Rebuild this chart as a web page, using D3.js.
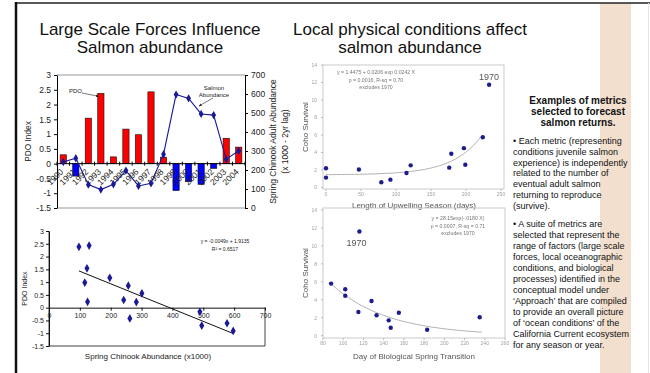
<!DOCTYPE html>
<html>
<head>
<meta charset="utf-8">
<script src="https://cdn.jsdelivr.net/npm/d3@7"></script>
<style>
  body { margin: 0; background: #fff; }
  svg { display: block; font-family: "Liberation Sans", Arial, sans-serif; }
</style>
</head>
<body>
<svg id="slide" width="650" height="373"></svg>
<script>
// ---- data ----
const years = [1990, 1991, 1992, 1993, 1994, 1995, 1996, 1997, 1998, 1999, 2000, 2001, 2002, 2003, 2004];
const pdoIndex = [0.3, -0.42, 1.54, 2.38, 0.23, 1.17, 0.98, 2.43, 0.22, -0.91, -0.61, -0.7, -0.16, 0.86, 0.56];
const chinookAbund = [242, 262, 123, 97, 125, 197, 116, 130, 283, 597, 577, 495, 489, 257, 301];
const pdoTicks = [-1.5, -1, -0.5, 0, 0.5, 1, 1.5, 2, 2.5, 3];
const abundTicks = [0, 100, 200, 300, 400, 500, 600, 700];
const pdoFit = [-0.0049, 1.9135]; // slope, intercept
const pdoFitText = ['y = -0.0049x + 1.9135', 'R\u00b2 = 0.6517'];

const upwellDays = [0, 0, 47, 79, 92, 115, 121, 176, 179, 197, 199, 224, 233];
const upwellSurv = [2.2, 1.13, 2.05, 0.6, 0.9, 1.66, 2.53, 2.27, 3.86, 4.5, 2.6, 5.75, 11.74];
const upwellFit = [1.4475, 0.0206, 0.0242]; // a + b*exp(c x)
const upwellFitText = ['y = 1.4475 + 0.0206 exp 0.0242 X', 'p = 0.0016, R-sq = 0.70', 'excludes 1970'];

const springDay = [88, 102, 102, 116, 115, 128, 133, 145, 147, 155, 183, 235];
const springSurv = [5.8, 5.17, 4.45, 11.6, 2.64, 3.87, 2.27, 1.71, 0.89, 2.56, 0.67, 2.05];
const springFit = [0, 28.15, -0.0180];
const springFitText = ['y = 28.15exp(-.0180 X)', 'p = 0.0007, R-sq = 0.71', 'excludes 1970'];
const survTicks = [0, 2, 4, 6, 8, 10, 12, 14];

const leftTitle = ['Large Scale Forces Influence', 'Salmon abundance'];
const midTitle = ['Local physical conditions affect', 'salmon abundance'];
const notesHead = ['Examples of metrics', 'selected to forecast', 'salmon returns.'];
const notesPara1 = ['\u2022 Each metric (representing', 'conditions juvenile salmon', 'experience) is independently',
  'related to the number of', 'eventual adult salmon', 'returning to reproduce', '(survive).'];
const notesPara2 = ['\u2022 A suite of metrics are', 'selected that represent the', 'range of factors (large scale',
  'forces, local oceanographic', 'conditions, and biological', 'processes) identified in the',
  'conceptual model under', '\u2018Approach\u2019 that are compiled', 'to provide an overall picture',
  'of \u2018ocean conditions\u2019 of the', 'California Current ecosystem', 'for any season or year.'];

const svg = d3.select('#slide');
const fmt = (d) => String(d);

// slide frame + right band
svg.append('rect').attr('x', 600).attr('y', 3).attr('width', 31).attr('height', 370).attr('fill', '#f3dfce');
svg.append('line').attr('x1', 15).attr('x2', 650).attr('y1', 3).attr('y2', 3).attr('stroke', '#222').attr('stroke-width', 1.5);
svg.append('line').attr('x1', 16).attr('x2', 16).attr('y1', 2).attr('y2', 373).attr('stroke', '#111').attr('stroke-width', 2.5);
svg.append('line').attr('x1', 648.5).attr('x2', 648.5).attr('y1', 3).attr('y2', 373).attr('stroke', '#e4e4e4');

// titles
svg.selectAll('.ltitle').data(leftTitle).enter().append('text')
    .attr('x', 150).attr('y', (d, i) => 35 + i * 18)
    .attr('text-anchor', 'middle').attr('font-size', 17).attr('fill', '#111').text((d) => d);
svg.selectAll('.mtitle').data(midTitle).enter().append('text')
    .attr('x', 410).attr('y', (d, i) => 35 + i * 18)
    .attr('text-anchor', 'middle').attr('font-size', 17).attr('fill', '#111').text((d) => d);

// arrow marker
svg.append('defs').append('marker').attr('id', 'arr').attr('viewBox', '0 0 10 10')
    .attr('refX', 9).attr('refY', 5).attr('markerWidth', 5).attr('markerHeight', 5).attr('orient', 'auto')
    .append('path').attr('d', 'M0,1 L10,5 L0,9 z').attr('fill', '#222');

// ***** top-left: PDO bars + chinook line *****
const tl = {left: 57, right: 245, top: 75, bottom: 208};
const xB = d3.scaleBand().domain(years).range([tl.left, tl.right]).paddingInner(0.5).paddingOuter(0.25);
const yL = d3.scaleLinear().domain([-1.5, 3]).range([tl.bottom, tl.top]);
const yR = d3.scaleLinear().domain([0, 700]).range([tl.bottom, tl.top]);
const bw = xB.bandwidth();
const combo = svg.append('g');

combo.append('line').attr('x1', tl.left).attr('x2', tl.right).attr('y1', tl.top).attr('y2', tl.top).attr('stroke', '#999');
combo.append('line').attr('x1', tl.left).attr('x2', tl.right).attr('y1', tl.bottom).attr('y2', tl.bottom).attr('stroke', '#999');

combo.selectAll('.bar').data(years).enter().append('rect')
    .attr('x', (d) => xB(d)).attr('width', bw)
    .attr('y', (d, i) => yL(Math.max(0, pdoIndex[i])))
    .attr('height', (d, i) => Math.abs(yL(pdoIndex[i]) - yL(0)))
    .attr('fill', (d, i) => pdoIndex[i] >= 0 ? '#ff0000' : '#0000ff')
    .attr('stroke', '#111').attr('stroke-width', 0.6);

const axL = combo.append('g').attr('transform', `translate(${tl.left},0)`)
    .call(d3.axisLeft(yL).tickValues(pdoTicks).tickFormat(fmt).tickSizeInner(3).tickSizeOuter(0).tickPadding(3));
const axR = combo.append('g').attr('transform', `translate(${tl.right},0)`)
    .call(d3.axisRight(yR).tickValues(abundTicks).tickFormat(fmt).tickSizeInner(3).tickSizeOuter(0).tickPadding(3));
[axL, axR].forEach((a) => {
  a.selectAll('text').attr('font-size', 8.5).attr('fill', '#222').attr('font-family', null);
  a.selectAll('line,path').attr('stroke', '#000');
});

// x axis at zero
const y0 = yL(0);
combo.append('line').attr('x1', tl.left).attr('x2', tl.right).attr('y1', y0).attr('y2', y0).attr('stroke', '#000');
combo.selectAll('.xt').data(d3.range(years.length + 1)).enter().append('line')
    .attr('x1', (i) => tl.left + i * xB.step()).attr('x2', (i) => tl.left + i * xB.step())
    .attr('y1', y0 - 2).attr('y2', y0 + 2).attr('stroke', '#000');

// line series
const lineGen = d3.line().x((d, i) => xB(years[i]) + bw / 2).y((d) => yR(d));
combo.append('path').datum(chinookAbund).attr('d', lineGen)
    .attr('fill', 'none').attr('stroke', '#1a1a96').attr('stroke-width', 1.1);

combo.selectAll('.yl').data(years).enter().append('text')
    .attr('transform', (d) => `translate(${xB(d) + bw / 2 - 3},${y0 + 5}) rotate(-45)`)
    .attr('text-anchor', 'end').attr('dy', '0.6em').attr('font-size', 8.5).attr('fill', '#222').text((d) => d);

combo.selectAll('.mk').data(chinookAbund).enter().append('path')
    .attr('d', d3.symbol().type(d3.symbolDiamond).size(20))
    .attr('transform', (d, i) => `translate(${xB(years[i]) + bw / 2},${yR(d)})`)
    .attr('fill', '#1a1a96');

combo.append('text').attr('transform', `translate(31,${(tl.top + tl.bottom) / 2}) rotate(-90)`)
    .attr('text-anchor', 'middle').attr('font-size', 8.3).attr('fill', '#222').text('PDO Index');
combo.append('text').attr('transform', `translate(276,${(tl.top + tl.bottom) / 2}) rotate(-90)`)
    .attr('text-anchor', 'middle').attr('font-size', 8.5).attr('fill', '#222').text('Spring Chinook Adult Abundance');
combo.append('text').attr('transform', `translate(288,${(tl.top + tl.bottom) / 2}) rotate(-90)`)
    .attr('text-anchor', 'middle').attr('font-size', 8.5).attr('fill', '#222').text('(x 1000 - 2yr lag)');

// annotations
combo.append('text').attr('x', 69).attr('y', 93).attr('font-size', 6).attr('fill', '#222').text('PDO');
combo.append('line').attr('x1', 82).attr('y1', 93).attr('x2', xB(1993) + 1).attr('y2', yL(pdoIndex[3]) + 3)
    .attr('stroke', '#222').attr('stroke-width', 0.6).attr('marker-end', 'url(#arr)');
combo.append('text').attr('x', 214).attr('y', 90).attr('text-anchor', 'middle').attr('font-size', 6).attr('fill', '#222').text('Salmon');
combo.append('text').attr('x', 214).attr('y', 97).attr('text-anchor', 'middle').attr('font-size', 6).attr('fill', '#222').text('Abundance');
combo.append('line').attr('x1', 213).attr('y1', 98).attr('x2', 199).attr('y2', 106)
    .attr('stroke', '#222').attr('stroke-width', 0.6).attr('marker-end', 'url(#arr)');

// ***** bottom-left: scatter PDO vs abundance *****
const sc = {left: 49, right: 265, top: 231, bottom: 346};
const sx = d3.scaleLinear().domain([0, 700]).range([sc.left, sc.right]);
const sy = d3.scaleLinear().domain([-1.5, 3]).range([sc.bottom, sc.top]);
const scat = svg.append('g');
scat.append('path').attr('d', `M${sc.left},${sc.top}V${sc.bottom}H${sc.right}V${sy(0)}`)
    .attr('fill', 'none').attr('stroke', '#111').attr('stroke-width', 0.8);
const sAxY = scat.append('g').attr('transform', `translate(${sc.left},0)`)
    .call(d3.axisLeft(sy).tickValues(pdoTicks).tickFormat(fmt).tickSizeInner(3).tickSizeOuter(0).tickPadding(2));
const sAxX = scat.append('g').attr('transform', `translate(0,${sy(0)})`)
    .call(d3.axisBottom(sx).tickValues(abundTicks).tickFormat(fmt).tickSizeInner(3).tickSizeOuter(0).tickPadding(2));
[sAxY, sAxX].forEach((a) => {
  a.selectAll('text').attr('font-size', 7).attr('fill', '#222').attr('font-family', null);
  a.selectAll('line,path').attr('stroke', '#111');
});
const absExt = d3.extent(chinookAbund);
scat.append('line')
    .attr('x1', sx(absExt[0])).attr('y1', sy(pdoFit[0] * absExt[0] + pdoFit[1]))
    .attr('x2', sx(absExt[1])).attr('y2', sy(pdoFit[0] * absExt[1] + pdoFit[1]))
    .attr('stroke', '#111').attr('stroke-width', 1);
scat.selectAll('.pt').data(chinookAbund).enter().append('path')
    .attr('d', d3.symbol().type(d3.symbolDiamond).size(22))
    .attr('transform', (d, i) => `translate(${sx(d)},${sy(pdoIndex[i])})`)
    .attr('fill', '#1a1a96');
scat.selectAll('.eq').data(pdoFitText).enter().append('text')
    .attr('x', 225).attr('y', (d, i) => 243 + i * 7.5).attr('text-anchor', 'middle')
    .attr('font-size', 5).attr('fill', '#222').text((d) => d);
scat.append('text').attr('transform', `translate(27,${(sc.top + sc.bottom) / 2}) rotate(-90)`)
    .attr('text-anchor', 'middle').attr('font-size', 7).attr('fill', '#222').text('PDO Index');
scat.append('text').attr('x', 148).attr('y', 359).attr('text-anchor', 'middle')
    .attr('font-size', 8).attr('fill', '#222').text('Spring Chinook Abundance (x1000)');

// ***** middle: coho survival panels (scanned, soft look) *****
svg.select('defs').append('filter').attr('id', 'soft')
    .append('feGaussianBlur').attr('stdDeviation', 0.35);

function cohoPanel(o) {
  const g = svg.append('g').attr('filter', 'url(#soft)');
  const x = d3.scaleLinear().domain(o.xDomain).range(o.xRange);
  const y = d3.scaleLinear().domain([0, 14]).range(o.yRange);
  g.append('rect').attr('x', o.box[0]).attr('y', o.box[1]).attr('width', o.box[2] - o.box[0])
      .attr('height', o.box[3] - o.box[1]).attr('fill', 'none').attr('stroke', '#bdbdbd').attr('stroke-width', 0.8);
  g.selectAll('.yt').data(survTicks).enter().append('text')
      .attr('x', o.box[0] - 6).attr('y', (d) => y(d) + 1.8).attr('text-anchor', 'end')
      .attr('font-size', 5).attr('fill', '#a0a0a0').text(fmt);
  g.selectAll('.ytk').data(survTicks).enter().append('line')
      .attr('x1', o.box[0] - 2).attr('x2', o.box[0]).attr('y1', (d) => y(d)).attr('y2', (d) => y(d)).attr('stroke', '#bbb');
  g.selectAll('.xt').data(o.xTicks).enter().append('text')
      .attr('x', (d) => x(d)).attr('y', o.box[3] + 7).attr('text-anchor', 'middle')
      .attr('font-size', 5).attr('fill', '#a0a0a0').text(fmt);
  g.selectAll('.xtk').data(o.xTicks).enter().append('line')
      .attr('x1', (d) => x(d)).attr('x2', (d) => x(d)).attr('y1', o.box[3]).attr('y2', o.box[3] + 2).attr('stroke', '#bbb');
  const fx = d3.range(o.fitRange[0], o.fitRange[1] + 0.01, (o.fitRange[1] - o.fitRange[0]) / 60);
  g.append('path').datum(fx)
      .attr('d', d3.line().x((d) => x(d)).y((d) => y(o.fit[0] + o.fit[1] * Math.exp(o.fit[2] * d))))
      .attr('fill', 'none').attr('stroke', '#b0b0b0').attr('stroke-width', 1);
  g.selectAll('.p').data(o.xs).enter().append('circle')
      .attr('cx', (d) => x(d)).attr('cy', (d, i) => y(o.ys[i])).attr('r', 2.2).attr('fill', '#1f1f8f');
  g.selectAll('.eq').data(o.eqText).enter().append('text')
      .attr('x', o.eqPos[0]).attr('y', (d, i) => o.eqPos[1] + i * 7.5).attr('text-anchor', 'middle')
      .attr('font-size', 5.2).attr('fill', '#777').text((d) => d);
  g.append('text').attr('x', x(o.xs[o.outlier]) + o.outOff[0]).attr('y', y(o.ys[o.outlier]) + o.outOff[1])
      .attr('text-anchor', 'middle').attr('font-size', 9).attr('fill', '#555').text('1970');
  g.append('text').attr('transform', `translate(308,${(o.box[1] + o.box[3]) / 2}) rotate(-90)`)
      .attr('text-anchor', 'middle').attr('font-size', 8).attr('fill', '#555').text('Coho Survival');
  g.append('text').attr('x', 414).attr('y', o.xTitleY).attr('text-anchor', 'middle')
      .attr('font-size', 8).attr('fill', '#555').text(o.xTitle);
}

cohoPanel({
  box: [323, 65, 504, 189], xDomain: [0, 250], xRange: [326, 501], yRange: [187.5, 65],
  xTicks: [0, 50, 100, 150, 200, 250], xs: upwellDays, ys: upwellSurv, outlier: 12, outOff: [0, -5],
  fit: upwellFit, fitRange: [0, 222], eqText: upwellFitText, eqPos: [376, 74],
  xTitle: 'Length of Upwelling Season (days)', xTitleY: 208
});
cohoPanel({
  box: [323, 208, 505, 338], xDomain: [80, 260], xRange: [323, 505], yRange: [335.7, 210],
  xTicks: [80, 100, 120, 140, 160, 180, 200, 220, 240, 260], xs: springDay, ys: springSurv, outlier: 3, outOff: [-3, 14],
  fit: springFit, fitRange: [88, 237], eqText: springFitText, eqPos: [458, 220],
  xTitle: 'Day of Biological Spring Transition', xTitleY: 359
});

// ***** right: notes *****
const notes = svg.append('g');
notes.selectAll('.h').data(notesHead).enter().append('text')
    .attr('x', 578).attr('y', (d, i) => 104 + i * 11).attr('text-anchor', 'middle')
    .attr('font-size', 10).attr('font-weight', 'bold').attr('fill', '#111').text((d) => d);
notes.selectAll('.p1').data(notesPara1).enter().append('text')
    .attr('x', 513).attr('y', (d, i) => 144 + i * 10.8)
    .attr('font-size', 9).attr('fill', '#111').text((d) => d);
notes.selectAll('.p2').data(notesPara2).enter().append('text')
    .attr('x', 513).attr('y', (d, i) => 227 + i * 11)
    .attr('font-size', 9).attr('fill', '#111').text((d) => d);
</script>
</body>
</html>
